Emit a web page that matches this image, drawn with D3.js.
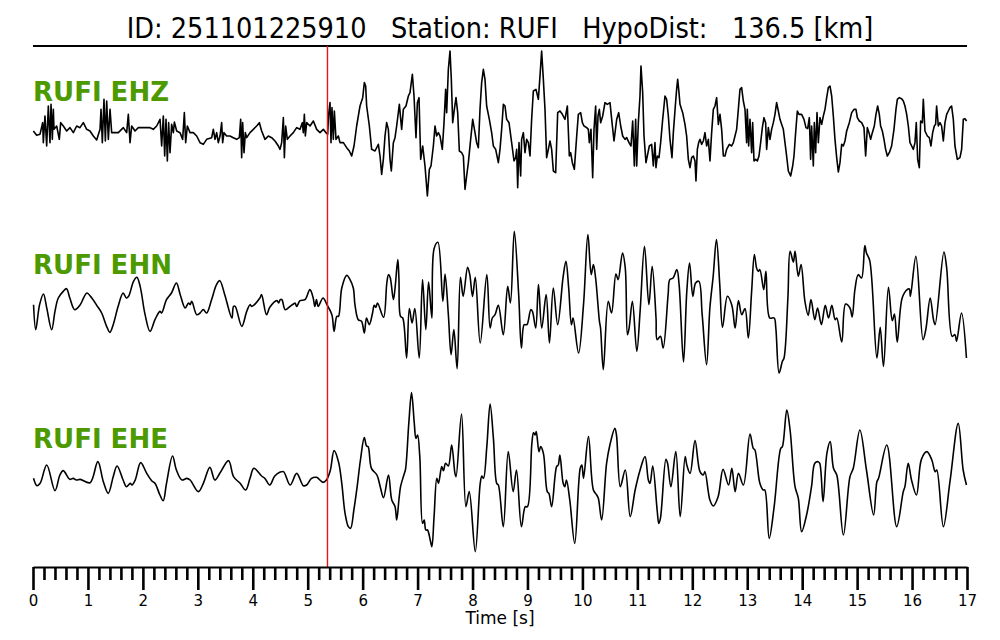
<!DOCTYPE html>
<html><head><meta charset="utf-8">
<script src="https://cdn.jsdelivr.net/npm/d3@7"></script>
<style>
html,body{margin:0;padding:0;background:#fff;}
svg{display:block;font-family:"DejaVu Sans",sans-serif;}
</style></head>
<body><svg id="c" width="1000" height="640"></svg>
<script>
const titleText = "ID: 251101225910   Station: RUFI   HypoDist:   136.5 [km]";
const channels = ["EHZ","EHN","EHE"];
const traceLabels = ["RUFI EHZ","RUFI EHN","RUFI EHE"];
const pickTime = 5.36;
const timeDomain = [0, 17];
const majorTicks = [0,1,2,3,4,5,6,7,8,9,10,11,12,13,14,15,16,17];
const xLabel = "Time [s]";

// [time s, amplitude counts]
const ehz = [[0.006,-4],[0.067,-17],[0.127,-14],[0.176,21],[0.188,-39],[0.218,41],[0.249,-49],[0.279,71],[0.309,-39],[0.328,76],[0.352,-29],[0.370,61],[0.382,1],[0.431,11],[0.479,-29],[0.504,21],[0.552,11],[0.613,-4],[0.673,6],[0.734,-9],[0.795,11],[0.855,6],[0.916,21],[0.977,1],[1.037,-4],[1.098,-19],[1.159,-31],[1.220,1],[1.238,61],[1.262,-39],[1.292,91],[1.317,-34],[1.341,86],[1.371,-29],[1.402,61],[1.432,-9],[1.493,-9],[1.553,-9],[1.644,6],[1.705,-9],[1.735,46],[1.766,-39],[1.796,11],[1.857,-4],[1.917,6],[1.978,6],[2.039,6],[2.130,6],[2.190,1],[2.251,11],[2.312,31],[2.342,-49],[2.372,41],[2.397,-79],[2.421,31],[2.445,-94],[2.469,21],[2.494,-69],[2.524,16],[2.554,-9],[2.573,23],[2.615,-4],[2.676,-9],[2.724,-29],[2.755,51],[2.779,-39],[2.809,11],[2.858,-9],[2.918,-9],[2.979,-19],[3.040,-39],[3.100,-44],[3.161,-29],[3.252,-24],[3.282,1],[3.313,-29],[3.343,-9],[3.373,-39],[3.404,-19],[3.434,21],[3.452,-39],[3.476,-9],[3.525,-19],[3.585,-19],[3.646,-24],[3.707,-29],[3.756,-24],[3.780,31],[3.798,-84],[3.816,21],[3.841,-69],[3.865,-9],[3.889,-24],[3.950,-9],[4.011,1],[4.071,11],[4.120,21],[4.162,-4],[4.223,-29],[4.283,-19],[4.344,-24],[4.405,-34],[4.466,-49],[4.496,-59],[4.526,-39],[4.557,36],[4.575,-84],[4.599,11],[4.629,-29],[4.678,-19],[4.738,-9],[4.799,6],[4.860,1],[4.902,21],[4.920,-9],[4.939,46],[4.957,-19],[4.981,21],[5.042,11],[5.103,26],[5.163,1],[5.224,-9],[5.285,1],[5.333,-9],[5.363,-14],[5.381,46],[5.406,81],[5.424,-39],[5.442,66],[5.466,-29],[5.485,56],[5.515,-29],[5.558,-19],[5.588,-39],[5.649,-39],[5.709,-54],[5.758,-64],
[5.800,-79],[5.843,-49],[5.891,11],[5.952,71],[6.001,96],[6.031,141],[6.055,131],[6.073,71],[6.122,11],[6.164,-59],[6.225,-64],[6.286,-44],[6.316,-79],[6.346,-134],[6.377,-89],[6.407,-19],[6.437,21],[6.468,1],[6.498,-89],[6.522,-124],[6.559,-39],[6.589,-24],[6.619,11],[6.668,76],[6.710,1],[6.741,61],[6.789,71],[6.832,101],[6.862,111],[6.905,166],[6.935,101],[6.971,-24],[6.996,81],[7.026,96],[7.056,-89],[7.093,-49],[7.135,-109],[7.178,-199],[7.214,-119],[7.244,-109],[7.287,-49],[7.317,11],[7.347,-19],[7.378,-9],[7.408,-19],[7.450,-59],[7.481,21],[7.511,121],[7.529,51],[7.560,181],[7.590,236],[7.614,151],[7.639,21],[7.669,61],[7.699,96],[7.730,51],[7.760,-64],[7.802,-69],[7.833,-79],[7.863,-179],[7.893,-139],[7.924,-99],[7.966,-29],[8.003,31],[8.045,-9],[8.075,-39],[8.106,-54],[8.136,61],[8.166,141],[8.197,181],[8.227,151],[8.257,71],[8.306,31],[8.348,-9],[8.379,-49],[8.421,-59],[8.470,-99],[8.500,-59],[8.530,1],[8.561,76],[8.591,71],[8.621,31],[8.664,21],[8.712,-39],[8.755,-94],[8.785,-84],[8.803,-59],[8.822,-174],[8.846,-39],[8.876,-139],[8.894,-29],[8.925,-9],[8.955,-69],[8.985,-29],[9.016,-39],[9.046,-79],[9.076,31],[9.107,116],[9.155,121],[9.198,91],[9.228,161],[9.258,236],[9.289,151],[9.319,61],[9.349,-84],[9.380,-59],[9.410,-34],[9.440,-59],[9.471,-124],[9.513,-129],[9.550,51],[9.592,56],[9.635,46],[9.683,31],[9.726,71],[9.762,-79],[9.786,-69],[9.817,-99],[9.853,-119],[9.896,-19],[9.926,46],[9.968,51],[9.999,21],[10.029,11],[10.078,6],[10.108,1],[10.126,-39],[10.156,1],[10.187,-144],[10.211,1],[10.241,71],[10.260,-59],[10.284,41],[10.308,61],[10.332,21],[10.369,41],[10.411,81],[10.454,76],[10.502,81],[10.533,31],[10.575,-34],[10.624,31],[10.660,51],[10.697,11],[10.733,-19],[10.775,-29],[10.806,-24],[10.848,-39],[10.884,-49],[10.915,26],[10.945,-109],[10.969,31],[10.988,-109],[11.018,21],[11.048,101],[11.066,191],[11.097,111],[11.121,-19],[11.157,-99],
[11.218,-49],[11.260,-44],[11.291,-109],[11.321,-39],[11.339,-114],[11.364,-79],[11.394,-84],[11.424,-39],[11.461,31],[11.503,101],[11.533,91],[11.564,41],[11.594,-29],[11.630,-84],[11.655,-9],[11.691,71],[11.715,121],[11.734,151],[11.758,111],[11.776,76],[11.825,51],[11.867,16],[11.897,-19],[11.928,-89],[11.958,-114],[11.988,-84],[12.019,-79],[12.049,-94],[12.067,-154],[12.092,-59],[12.116,-39],[12.140,-29],[12.170,-44],[12.201,-34],[12.231,-9],[12.261,-49],[12.292,-29],[12.322,-94],[12.352,-9],[12.383,61],[12.413,71],[12.443,96],[12.474,16],[12.504,46],[12.534,1],[12.565,-79],[12.595,-79],[12.625,-59],[12.674,-44],[12.716,-49],[12.747,-39],[12.777,-19],[12.807,1],[12.838,61],[12.868,121],[12.898,126],[12.929,86],[12.959,61],[12.989,-39],[13.001,61],[13.026,-49],[13.050,31],[13.080,-69],[13.099,21],[13.123,-94],[13.153,-89],[13.184,-94],[13.214,-79],[13.244,-39],[13.275,6],[13.305,36],[13.335,21],[13.353,-59],[13.384,6],[13.414,-29],[13.444,1],[13.475,21],[13.505,46],[13.535,81],[13.566,56],[13.596,31],[13.626,16],[13.657,1],[13.687,-39],[13.717,-79],[13.748,-124],[13.790,-139],[13.827,-109],[13.851,-79],[13.881,-9],[13.912,56],[13.942,46],[13.990,46],[14.033,31],[14.069,6],[14.100,3],[14.130,36],[14.154,-89],[14.172,11],[14.203,-109],[14.221,21],[14.245,-69],[14.270,51],[14.294,-39],[14.324,36],[14.355,16],[14.385,41],[14.415,61],[14.446,96],[14.476,126],[14.506,131],[14.537,101],[14.567,41],[14.597,-29],[14.628,-84],[14.658,-127],[14.688,-99],[14.719,-44],[14.749,-49],[14.779,-34],[14.810,-4],[14.858,21],[14.901,51],[14.943,61],[14.979,61],[15.004,36],[15.040,26],[15.083,21],[15.125,6],[15.155,-79],[15.186,6],[15.216,-9],[15.246,-29],[15.277,-9],[15.313,11],[15.343,46],[15.374,71],[15.404,46],[15.428,11],[15.459,-4],[15.489,-29],[15.519,-59],[15.550,-79],[15.586,-69],[15.628,-49],[15.671,1],[15.707,61],[15.732,91],[15.768,96],[15.810,93],[15.841,86],[15.871,71],[15.902,46],[15.932,11],[15.962,-39],[15.993,-49],[16.023,-59],[16.053,-39],[16.077,21],[16.102,-89],[16.132,-114],[16.156,26],[16.187,21],[16.205,91],[16.235,-4],[16.278,-19],[16.314,-24],[16.344,-49],[16.375,-9],[16.405,11],[16.429,16],[16.447,71],[16.478,11],[16.508,21],[16.538,11],[16.569,-34],[16.599,21],[16.630,46],[16.660,56],[16.690,66],[16.720,71],[16.751,31],[16.781,-49],[16.824,-89],[16.872,-84],[16.902,-59],[16.933,31],[16.963,33],[16.993,26]];

const ehn = [[0.01,-5],[0.05,-80],[0.12,-5],[0.19,27],[0.25,-15],[0.34,-80],[0.40,-25],[0.46,15],[0.55,35],[0.61,43],[0.67,15],[0.76,-20],[0.86,-5],[0.92,15],[0.98,30],[1.07,15],[1.16,-7],[1.25,-30],[1.34,-70],[1.40,-88],[1.46,-65],[1.55,-10],[1.64,30],[1.70,15],[1.74,20],[1.83,65],[1.89,77],[1.95,50],[2.04,-35],[2.13,-85],[2.22,-50],[2.31,-25],[2.34,-30],[2.43,10],[2.52,30],[2.61,60],[2.68,25],[2.77,-15],[2.83,0],[2.86,-5],[2.89,5],[2.98,-35],[3.04,-30],[3.10,-20],[3.16,-30],[3.25,10],[3.34,55],[3.40,67],[3.49,25],[3.62,-45],[3.65,-10],[3.68,-10],[3.80,-70],[3.89,-25],[3.95,-5],[3.98,-10],[4.13,15],[4.16,25],[4.25,-35],[4.31,-13],[4.44,7],[4.47,0],[4.50,10],[4.53,10],[4.59,-20],[4.68,-10],[4.74,-3],[4.77,0],[4.80,-10],[4.86,7],[4.95,10],[5.04,40],[5.10,15],[5.13,-10],[5.16,10],[5.19,-10],[5.28,15],[5.35,-5],[5.44,-35],[5.48,-85],[5.53,-40],[5.56,-40],[5.62,45],[5.71,83],[5.77,70],
[5.83,45],[5.86,-5],[5.92,-50],[5.98,-55],[6.03,-90],[6.07,-45],[6.12,-65],[6.18,-30],[6.21,-7],[6.24,-13],[6.27,0],[6.38,-43],[6.44,60],[6.47,85],[6.50,77],[6.56,10],[6.59,45],[6.64,130],[6.66,75],[6.69,-40],[6.73,-45],[6.80,-165],[6.85,-17],[6.90,-60],[6.95,-17],[7.03,-165],[7.09,70],[7.15,-80],[7.20,63],[7.26,-45],[7.30,163],[7.37,182],[7.46,5],[7.50,87],[7.56,-35],[7.61,-155],[7.66,-80],[7.72,-197],[7.78,77],[7.83,20],[7.91,107],[7.95,85],[8.00,20],[8.05,77],[8.14,-120],[8.26,85],[8.32,-75],[8.36,-45],[8.41,-35],[8.47,-7],[8.56,-95],[8.64,50],[8.69,0],[8.76,215],[8.84,25],[8.89,-135],[8.94,-65],[8.99,-65],[9.06,-20],[9.09,-25],[9.15,-75],[9.20,55],[9.26,-75],[9.34,25],[9.40,-120],[9.47,45],[9.55,-65],[9.65,80],[9.70,125],[9.75,45],[9.80,-65],[9.83,-45],[9.93,-150],[10.02,-5],[10.10,205],[10.16,85],[10.20,115],[10.24,75],[10.31,-55],[10.33,-75],[10.38,-200],[10.47,5],[10.53,-30],[10.61,87],[10.65,70],[10.73,150],[10.78,105],[10.82,-95],[10.85,-75],[10.91,5],[10.99,-145],[11.05,-25],[11.13,170],[11.21,-5],
[11.27,110],[11.34,-45],[11.36,-110],[11.42,-100],[11.47,-135],[11.56,25],[11.59,70],[11.65,75],[11.72,100],[11.76,55],[11.84,-177],[11.90,35],[11.95,120],[12.01,20],[12.06,60],[12.12,65],[12.18,-35],[12.26,-185],[12.32,-15],[12.38,80],[12.44,190],[12.50,55],[12.55,-73],[12.64,20],[12.72,-7],[12.78,-75],[12.84,7],[12.90,-35],[12.96,-17],[13.02,-105],[13.08,35],[13.13,145],[13.17,105],[13.20,95],[13.23,100],[13.30,40],[13.34,95],[13.41,-45],[13.49,-45],[13.52,-75],[13.58,-210],[13.64,-175],[13.67,-165],[13.74,15],[13.78,155],[13.84,123],[13.87,155],[13.93,80],[13.98,115],[14.05,5],[14.11,-37],[14.16,10],[14.23,-50],[14.28,-15],[14.35,-65],[14.42,-7],[14.48,-45],[14.54,-7],[14.60,-50],[14.63,-45],[14.72,-117],[14.79,-3],[14.87,-15],[14.91,-42],[14.96,40],[15.02,85],[15.08,75],[15.14,172],[15.17,150],[15.23,127],[15.36,-165],[15.42,-73],[15.48,-190],[15.57,47],[15.64,-53],[15.68,-33],[15.73,-117],[15.82,15],[15.91,40],[15.95,42],[15.97,20],[16.07,140],[16.20,-110],[16.25,-80],[16.33,15],[16.39,-50],[16.42,-65],[16.58,153],[16.63,105],[16.73,-100],[16.78,-95],[16.81,-115],[16.90,-30],[16.99,-165]];

const ehe = [[0.01,-6],[0.07,-28],[0.13,-21],[0.25,34],[0.40,-43],[0.49,4],[0.55,17],[0.67,-9],[0.73,-6],[0.79,-11],[0.86,-9],[1.04,-19],[1.18,44],[1.28,-16],[1.37,-51],[1.46,-1],[1.53,31],[1.64,-11],[1.70,-31],[1.77,-21],[1.80,-26],[1.86,-11],[1.96,41],[2.07,9],[2.16,-13],[2.22,-21],[2.31,-56],[2.37,-73],[2.43,-21],[2.54,61],[2.61,19],[2.71,-11],[2.80,-6],[2.86,-11],[3.01,-46],[3.10,-21],[3.22,27],[3.31,-11],[3.40,9],[3.56,47],[3.65,-1],[3.77,-21],[3.87,-41],[3.95,-6],[4.02,24],[4.16,1],[4.22,-6],[4.31,-26],[4.40,1],[4.50,13],[4.56,14],[4.68,-26],[4.80,9],[4.92,-28],[4.98,-26],[5.07,-6],[5.16,-3],[5.28,-18],[5.34,-11],[5.41,17],[5.48,77],[5.56,44],[5.62,-21],[5.68,-111],[5.74,-151],
[5.78,-156],[5.84,-101],[5.90,-31],[5.96,49],[6.03,116],[6.07,91],[6.10,89],[6.16,24],[6.26,4],[6.32,-31],[6.38,-64],[6.47,4],[6.53,-71],[6.59,-91],[6.62,-131],[6.66,-71],[6.69,-31],[6.75,4],[6.78,21],[6.84,159],[6.89,251],[6.94,159],[6.97,114],[7.00,124],[7.04,59],[7.09,-141],[7.12,-131],[7.15,-161],[7.18,-161],[7.23,-191],[7.26,-211],[7.30,-121],[7.35,-6],[7.38,-21],[7.44,29],[7.47,17],[7.51,39],[7.56,31],[7.62,94],[7.68,9],[7.70,-1],[7.80,187],[7.88,-91],[7.94,-46],[8.05,-226],[8.14,-21],[8.17,1],[8.20,-6],[8.26,89],[8.32,217],[8.38,114],[8.44,-21],[8.47,-26],[8.56,-151],[8.65,74],[8.74,-46],[8.80,19],[8.89,-151],[8.96,-91],[9.00,-91],[9.08,99],[9.11,131],[9.14,124],[9.16,134],[9.21,74],[9.24,89],[9.29,69],[9.36,-46],[9.39,-51],[9.44,-91],[9.53,29],[9.56,34],[9.59,64],[9.65,-21],[9.68,-31],[9.71,-11],[9.77,-71],[9.86,-201],[9.96,24],[9.99,34],[10.02,-6],[10.11,119],[10.20,-41],[10.26,-56],[10.29,-66],[10.35,-131],[10.44,39],[10.50,94],[10.59,144],[10.62,124],[10.69,-31],[10.78,19],[10.87,-121],[10.96,-41],[11.05,19],[11.14,59],[11.20,-11],[11.23,-21],
[11.28,31],[11.36,-101],[11.39,-141],[11.42,-126],[11.52,51],[11.55,39],[11.61,-31],[11.70,74],[11.78,-121],[11.87,59],[11.90,34],[11.96,9],[12.05,107],[12.14,14],[12.20,4],[12.23,14],[12.32,-71],[12.38,-89],[12.47,-61],[12.56,21],[12.66,-26],[12.72,24],[12.78,-46],[12.84,9],[12.93,-26],[13.05,127],[13.11,84],[13.14,79],[13.23,-21],[13.29,-41],[13.32,-41],[13.40,-186],[13.49,-91],[13.61,84],[13.64,89],[13.72,199],[13.78,139],[13.87,-31],[13.93,-66],[13.99,-166],[14.08,-116],[14.17,-31],[14.23,39],[14.29,44],[14.32,39],[14.38,-76],[14.45,69],[14.51,104],[14.57,24],[14.63,4],[14.75,-176],[14.87,-1],[14.93,24],[15.05,139],[15.17,19],[15.30,-116],[15.36,-16],[15.39,-6],[15.54,94],[15.72,-151],[15.84,-46],[15.87,-31],[15.93,39],[15.99,-11],[16.08,-56],[16.17,51],[16.27,74],[16.36,49],[16.42,14],[16.45,19],[16.57,-151],[16.69,-16],[16.84,159],[16.93,19],[16.99,-26]];

const traces = [ehz, ehn, ehe];

const svg = d3.select("#c");
const x = d3.scaleLinear().domain(timeDomain).range([33, 967]);
const band = d3.scaleBand().domain(channels).range([43, 563]);
const amp = d3.scaleLinear().domain([-250, 250]).range([250/3, -250/3]);
const axisY = 567;

// title
svg.append("text").attr("x", 500).attr("y", 38).attr("text-anchor", "middle")
  .style("font-family", "'DejaVu Sans Condensed','DejaVu Sans',sans-serif")
  .style("font-stretch", "condensed")
  .style("font-size", "28.5px").style("white-space", "pre").attr("fill", "#000").text(titleText);
svg.append("line").attr("x1", x(0)).attr("x2", x(17)).attr("y1", 46).attr("y2", 46)
  .attr("stroke", "#000").attr("stroke-width", 2);

// traces
channels.forEach((ch, i) => {
  const cy = band(ch) + band.bandwidth() / 2;
  const line = d3.line().x(d => x(d[0])).y(d => cy + amp(d[1]))
    .curve(i === 0 ? d3.curveLinear : d3.curveCatmullRom.alpha(0.5));
  svg.append("path").datum(traces[i]).attr("d", line)
    .attr("fill", "none").attr("stroke", "#000").attr("stroke-width", 1.6)
    .attr("stroke-linejoin", "round");
  svg.append("text").attr("x", 33).attr("y", band(ch) + 58)
    .style("font-size", "26px").style("font-weight", "bold")
    .attr("fill", "#4c9a00").text(traceLabels[i]);
});

// pick line
svg.append("line").attr("x1", x(pickTime)).attr("x2", x(pickTime))
  .attr("y1", 46).attr("y2", axisY).attr("stroke", "#e8161b").attr("stroke-width", 1.4);

// axis
const minorTicks = d3.range(0, 85).map(k => k / 5).filter(v => v % 1 !== 0);
const gMinor = svg.append("g").attr("transform", `translate(0,${axisY})`)
  .call(d3.axisBottom(x).tickValues(minorTicks).tickSize(13).tickSizeOuter(0).tickFormat(""));
gMinor.select(".domain").remove();
gMinor.selectAll("line").attr("stroke", "#000").attr("stroke-width", 2.6);

const gMajor = svg.append("g").attr("transform", `translate(0,${axisY})`)
  .call(d3.axisBottom(x).tickValues(majorTicks).tickSize(23).tickSizeOuter(0).tickPadding(5).tickFormat(d3.format("d")));
gMajor.select(".domain").attr("stroke", "#000").attr("stroke-width", 2.2);
gMajor.selectAll("line").attr("stroke", "#000").attr("stroke-width", 2.6);
gMajor.selectAll("text").style("font-size", "15px").attr("fill", "#000")
  .style("font-family", "DejaVu Sans, sans-serif");

svg.append("text").attr("x", 500).attr("y", 624).attr("text-anchor", "middle")
  .style("font-size", "17px").attr("fill", "#000").text(xLabel);
</script></body></html>
